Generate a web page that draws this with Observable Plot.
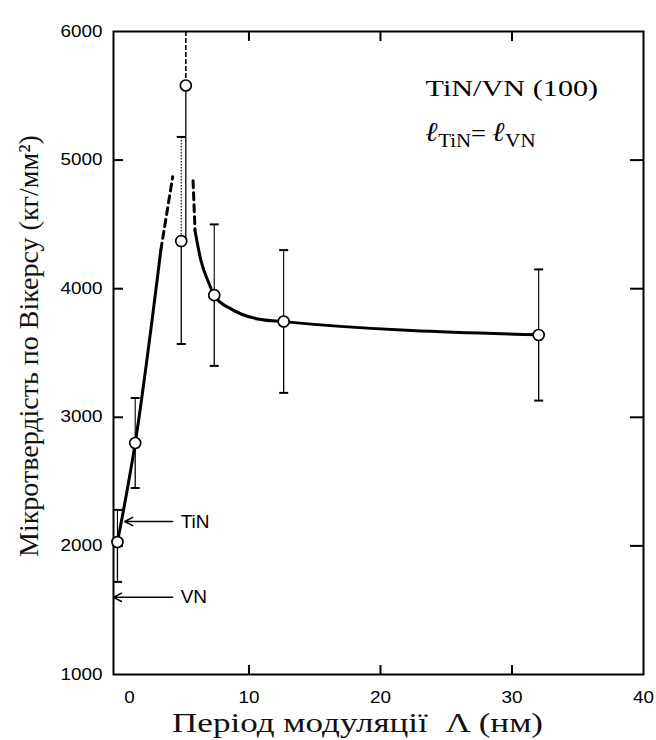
<!DOCTYPE html>
<html><head><meta charset="utf-8">
<script src="https://cdn.jsdelivr.net/npm/d3@7"></script>
<script src="https://cdn.jsdelivr.net/npm/@observablehq/plot@0.6"></script>
<style>body{margin:0;background:#fff} #chart svg{display:block;background:#fff}</style>
</head><body><div id="chart"></div>
<script>
// ---- data ----
const period   = [0, 1.35, 4.85, 5.2, 7.36, 12.64, 32.03];      // Λ, nm
const hardness = [2030, 2800, 4370, 5580, 3950, 3745, 3640];    // kg/mm²
const errLow   = [1720, 2450, 3570, 4380, 3400, 3190, 3130];
const errHigh  = [2280, 3150, 5180, 6000, 4500, 4300, 4150];
const upperStyle = ["solid", "solid", "dotted", "dashed", "solid", "solid", "solid"];
const hasCaps  = [true, true, true, false, true, true, true];

// fitted guide curve, split into solid / dashed pieces
const fitX   = [0, 1.35, 3.3,  3.3, 4.2,  5.75, 5.9,  5.9, 6.35, 6.98, 7.36, 8.63, 10.66, 12.64, 32.03];
const fitY   = [2030, 2800, 4300, 4300, 4870, 4840, 4450, 4450, 4218, 4037, 3946, 3843, 3765, 3744, 3641];
const fitSeg = ["a", "a", "a", "b", "b", "c", "c", "d", "d", "d", "d", "d", "d", "d", "d"];
const dashedSegs = ["b", "c"];

// bulk reference values
const refNames    = ["TiN", "VN"];
const refHardness = [2190, 1600];
const arrowFrom   = [4.2, 4.2];
const arrowTip    = [0.55, -0.3];

const xTicks = [0, 10, 20, 30, 40];
const yTicks = [1000, 2000, 3000, 4000, 5000, 6000];
const innerYTicks = [2000, 3000, 4000, 5000];
const innerXTicks = [10, 20, 30];

const xTitle = "Період модуляції  Λ (нм)";
const yTitle = "Мікротвердість по Вікерсу (кг/мм²)";
const sysTitle = "TiN/VN (100)";
const formula = "ℓTiN= ℓVN";

// ---- build tables ----
const points = period.map((x, i) => ({x, y: hardness[i], lo: errLow[i], hi: errHigh[i], up: upperStyle[i], cap: hasCaps[i]}));
const fit = fitX.map((x, i) => ({x, y: fitY[i], seg: fitSeg[i]}));
const refs = refNames.map((name, i) => ({name, h: refHardness[i], from: arrowFrom[i], tip: arrowTip[i]}));

const W = 656, H = 740, ML = 113, MR = 13, MT = 31, MB = 66;
const FW = W - ML - MR, FH = H - MT - MB;

const serif = "Liberation Serif, Times New Roman, serif";
const sans = "Liberation Sans, Arial, sans-serif";
const fmt = d => String(d);

const capSymbol = {draw(ctx, size) { const w = Math.sqrt(size / Math.PI); ctx.moveTo(-w, 0); ctx.lineTo(w, 0); }};

const chart = Plot.plot({
  width: W, height: H,
  marginLeft: ML, marginRight: MR, marginTop: MT, marginBottom: MB,
  x: {domain: [-0.3, 40], label: null},
  y: {domain: [1000, 6000], label: null},
  style: {fontFamily: sans, fontSize: "16px", color: "black", background: "white"},
  marks: [
    // tick labels
    Plot.axisY({anchor: "left", ticks: yTicks, tickSize: 0, tickPadding: 11, tickFormat: fmt, label: null}),
    Plot.axisX({anchor: "bottom", ticks: xTicks.slice(1), tickSize: 0, tickPadding: 17, tickFormat: fmt, label: null}),
    Plot.axisX({anchor: "bottom", ticks: xTicks.slice(0, 1), tickSize: 0, tickPadding: 17, tickFormat: fmt, dx: 12, label: null}),
    // inward tick marks on all four sides
    Plot.tickY(innerYTicks, {y: d => d, insetRight: FW - 10, stroke: "black", strokeWidth: 2}),
    Plot.tickY(innerYTicks, {y: d => d, insetLeft: FW - 13, stroke: "black", strokeWidth: 2}),
    Plot.tickX(innerXTicks, {x: d => d, insetTop: FH - 9, stroke: "black", strokeWidth: 2}),
    Plot.tickX(innerXTicks, {x: d => d, insetBottom: FH - 10, stroke: "black", strokeWidth: 2}),
    Plot.frame({stroke: "black", strokeWidth: 2}),
    // error bars
    Plot.ruleX(points, {x: "x", y1: "lo", y2: "y", stroke: "black", strokeWidth: 1.3}),
    Plot.ruleX(points, {filter: d => d.up === "solid", x: "x", y1: "y", y2: "hi", stroke: "black", strokeWidth: 1.1}),
    Plot.ruleX(points, {filter: d => d.up === "dotted", x: "x", y1: "y", y2: "hi", stroke: "black", strokeWidth: 1.1, strokeDasharray: "1.5,1.5"}),
    Plot.ruleX(points, {filter: d => d.up === "dashed", x: "x", y1: "y", y2: "hi", stroke: "black", strokeWidth: 1.6, strokeDasharray: "5,2"}),
    Plot.dot(points, {filter: d => d.cap, x: "x", y: "lo", symbol: capSymbol, r: 4.5, stroke: "black", fill: "none", strokeWidth: 2}),
    Plot.dot(points, {filter: d => d.cap, x: "x", y: "hi", symbol: capSymbol, r: 4.5, stroke: "black", fill: "none", strokeWidth: 2}),
    // fitted guide curve
    Plot.line(fit, {filter: d => !dashedSegs.includes(d.seg), x: "x", y: "y", z: "seg", curve: "monotone-x", stroke: "black", strokeWidth: 3}),
    Plot.line(fit, {filter: d => dashedSegs.includes(d.seg), x: "x", y: "y", z: "seg", curve: "linear", stroke: "black", strokeWidth: 3, strokeDasharray: "7,5"}),
    // data points
    Plot.dot(points, {x: "x", y: "y", r: 5.5, fill: "white", stroke: "black", strokeWidth: 1.7}),
    // bulk references
    Plot.arrow(refs, {x1: "from", x2: "tip", y1: "h", y2: "h", stroke: "black", strokeWidth: 1.5, headLength: 9, headAngle: 55}),
    Plot.text(refs, {x: "from", y: "h", text: "name", dx: 8, textAnchor: "start", fontSize: 19, fontFamily: sans, fill: "black"}),
    // titles & annotation
    Plot.text([sysTitle], {frameAnchor: "top-left", dx: 312, dy: 47, textAnchor: "start", fontSize: 24, fontFamily: serif, fill: "black"}),
    Plot.text([formula], {frameAnchor: "top-left", dx: 312, dy: 92, textAnchor: "start", fontSize: 24, fontFamily: serif, fill: "black"}),
    Plot.text([xTitle], {frameAnchor: "bottom", dx: -21, dy: 57, fontSize: 27, fontFamily: serif, fill: "#111"}),
    Plot.text([yTitle], {frameAnchor: "left", textAnchor: "middle", rotate: -90, dx: -84, dy: -7, fontSize: 28, fontFamily: serif, fill: "#111"})
  ]
});

// ---- post-processing ----
function groupTexts(label) {
  return [...chart.querySelectorAll(`g[aria-label="${label}"] text`)];
}
function textsWith(s) {
  return [...chart.querySelectorAll("text")].filter(t => t.textContent === s);
}
function stretch(list, sx, sy) {
  list.forEach(t => {
    let tr = t.getAttribute("transform");
    if (!tr) {
      const x = t.getAttribute("x") || 0, y = t.getAttribute("y") || 0;
      t.removeAttribute("x"); t.removeAttribute("y");
      tr = `translate(${x},${y})`;
    }
    t.setAttribute("transform", `${tr} scale(${sx},${sy})`);
  });
}
stretch(groupTexts("y-axis tick label"), 1.18, 1);
stretch(groupTexts("x-axis tick label"), 1.18, 1);
stretch(textsWith(xTitle), 1.3, 1);
stretch(textsWith(sysTitle), 1.26, 1);

textsWith(formula).forEach(t => {
  t.textContent = "";
  const parts = [
    {s: "ℓ", size: 27, script: true, dy: 0},
    {s: "TiN", size: 19, dy: 6},
    {s: "= ", size: 24, dy: -6},
    {s: "ℓ", size: 27, script: true, dy: 0},
    {s: "VN", size: 19, dy: 6}
  ];
  parts.forEach(p => {
    const ts = document.createElementNS("http://www.w3.org/2000/svg", "tspan");
    ts.textContent = p.s;
    ts.setAttribute("font-size", p.size);
    if (p.script) {
      ts.setAttribute("font-weight", "bold");
      ts.setAttribute("font-style", "italic");
      ts.setAttribute("font-family", "DejaVu Serif, serif");
    }
    if (p.dy) ts.setAttribute("dy", p.dy);
    t.appendChild(ts);
  });
});
stretch(textsWith("ℓTiN= ℓVN"), 1.1, 1);

document.getElementById("chart").appendChild(chart);
</script>
</body></html>
